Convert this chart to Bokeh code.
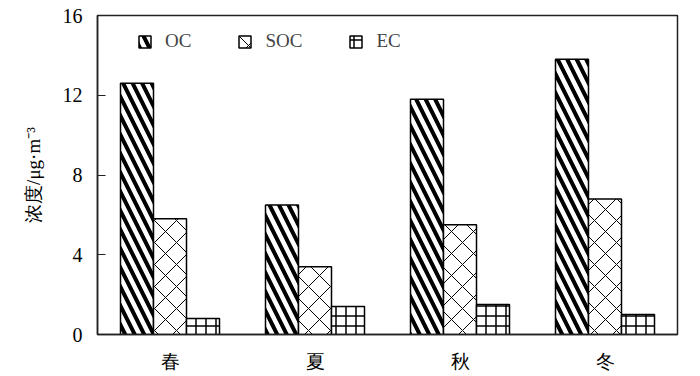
from bokeh.plotting import figure
from bokeh.models import FactorRange, Range1d, Legend, LegendItem, FixedTicker, ColumnDataSource
from bokeh.transform import dodge
from bokeh.embed import file_html
from bokeh.resources import INLINE

seasons = ["春", "夏", "秋", "冬"]
oc = [12.6, 6.5, 11.8, 13.8]
soc = [5.8, 3.4, 5.5, 6.8]
ec = [0.8, 1.4, 1.5, 1.0]
series = ["OC", "SOC", "EC"]
y_ticks = [0, 4, 8, 12, 16]
y_label = "浓度/μg·m⁻³"

FONT = "Liberation Serif"

src = ColumnDataSource(dict(season=seasons, OC=oc, SOC=soc, EC=ec))

p = figure(width=700, height=376,
           x_range=FactorRange(*seasons, range_padding=0),
           y_range=Range1d(0, 16),
           output_backend="svg", toolbar_location=None,
           min_border_left=97, min_border_right=23,
           min_border_top=15, min_border_bottom=42)

bw = 0.2276
styles = {
    "OC": dict(hatch_pattern="left_diagonal_line", hatch_weight=4, hatch_scale=19),
    "SOC": dict(hatch_pattern="diagonal_cross", hatch_weight=1, hatch_scale=22),
    "EC": dict(hatch_pattern="cross", hatch_weight=1.5, hatch_scale=10),
}
offsets = {"OC": -bw, "SOC": 0.0, "EC": bw}
items = []
for s in series:
    r = p.vbar(x=dodge("season", offsets[s], range=p.x_range), top=s, width=bw,
               source=src, fill_color="white", line_color="black", line_width=1.5,
               hatch_color="black", **styles[s])
    items.append(LegendItem(label=s, renderers=[r]))

legend = Legend(items=items, orientation="horizontal", location=(40, 282),
                padding=0, margin=0, spacing=46, label_standoff=13,
                glyph_width=15, glyph_height=15, label_height=15,
                label_text_font=FONT, label_text_font_size="19px",
                border_line_color=None, background_fill_alpha=0)
p.add_layout(legend, "center")

p.xgrid.grid_line_color = None
p.ygrid.grid_line_color = None
p.outline_line_color = "#222222"
p.outline_line_width = 1.5

p.yaxis.ticker = FixedTicker(ticks=y_ticks)
p.yaxis.minor_tick_line_color = None
p.yaxis.major_tick_in = 8
p.yaxis.major_tick_out = 0
p.yaxis.major_tick_line_color = "#222222"
p.yaxis.axis_line_color = "#222222"
p.yaxis.axis_line_width = 1.5
p.yaxis.major_label_standoff = 15
p.yaxis.major_label_text_font = FONT
p.yaxis.major_label_text_font_size = "20px"
p.yaxis.major_label_text_color = "black"
p.yaxis.axis_label = y_label
p.yaxis.axis_label_text_font = FONT
p.yaxis.axis_label_text_font_size = "19px"
p.yaxis.axis_label_text_font_style = "normal"
p.yaxis.axis_label_text_color = "black"
p.yaxis.axis_label_standoff = 16

p.xaxis.major_tick_line_color = None
p.xaxis.minor_tick_line_color = None
p.xaxis.axis_line_color = "#222222"
p.xaxis.axis_line_width = 1.5
p.xaxis.major_label_standoff = 10
p.xaxis.major_label_text_font = FONT
p.xaxis.major_label_text_font_size = "19px"
p.xaxis.major_label_text_color = "black"

open("out.html", "w").write(file_html(p, INLINE))
